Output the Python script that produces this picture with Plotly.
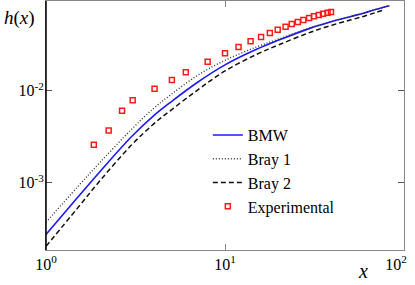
import plotly.graph_objects as go

# ---- data ----
x_bmw = [1, 1.5, 2, 3, 4, 5, 7, 10, 15, 20, 30, 40, 50, 60, 70, 83]
h_bmw = [2.75e-4, 6.92e-4, 1.32e-3, 3.16e-3, 5.37e-3, 7.59e-3, 0.0123, 0.0191,
         0.0282, 0.0355, 0.0479, 0.0569, 0.0638, 0.0700, 0.0767, 0.0839]

x_bray1 = [1, 1.5, 2, 3, 4, 5, 7, 10, 15, 20, 30, 40, 50, 60, 70, 83]
h_bray1 = [3.72e-4, 9.02e-4, 1.66e-3, 3.80e-3, 6.46e-3, 9.12e-3, 0.01462, 0.0214,
           0.0299, 0.0365, 0.0483, 0.0569, 0.0638, 0.0700, 0.0767, 0.0839]

x_bray2 = [1, 1.5, 2, 3, 4, 5, 7, 10, 15, 20, 30, 40, 50, 60, 70, 78]
h_bray2 = [2.04e-4, 5.31e-4, 1.05e-3, 2.57e-3, 4.37e-3, 6.17e-3, 0.01012, 0.0164,
           0.0248, 0.0316, 0.0432, 0.0519, 0.0586, 0.0646, 0.0711, 0.0759]

x_exp = [1.85, 2.24, 2.66, 3.05, 4.04, 5.05, 6.04, 8.0, 10.0, 11.9, 13.9, 15.9,
         17.8, 19.7, 21.8, 23.6, 25.5, 27.4, 29.5, 31.4, 33.4, 35.3, 37.4, 39.1]
h_exp = [0.00259, 0.00371, 0.00606, 0.00787, 0.0105, 0.01305, 0.01585, 0.0206,
         0.0255, 0.0299, 0.0344, 0.0384, 0.0424, 0.046, 0.0496, 0.0531, 0.0558,
         0.0587, 0.0617, 0.0644, 0.0665, 0.0687, 0.0705, 0.0717]

x_tickvals = [1, 10, 100]
x_ticktext = ["10<sup>0</sup>", "10<sup>1</sup>", "10<sup>2</sup>&nbsp;&nbsp;&nbsp;&nbsp;"]
y_tickvals = [1e-3, 1e-2]
y_ticktext = ["10<sup>-3</sup>", "10<sup>-2</sup>"]

FONT = "'Liberation Serif', 'DejaVu Serif', 'Times New Roman', serif"

fig = go.Figure()
fig.add_trace(go.Scatter(x=x_bmw, y=h_bmw, mode="lines", name="BMW",
                         line=dict(color="#1a1aff", width=1.6, shape="spline")))
fig.add_trace(go.Scatter(x=x_bray1, y=h_bray1, mode="lines", name="Bray 1",
                         line=dict(color="#333333", width=1.4, dash="1px,2px", shape="spline")))
fig.add_trace(go.Scatter(x=x_bray2, y=h_bray2, mode="lines", name="Bray 2",
                         line=dict(color="#111111", width=1.5, dash="5px,3px", shape="spline")))
fig.add_trace(go.Scatter(x=x_exp, y=h_exp, mode="markers", name="Experimental",
                         marker=dict(symbol="square-open", size=5, color="#ff1a1a",
                                     line=dict(width=1.5, color="#ff1a1a"))))

fig.update_layout(
    width=415, height=285,
    margin=dict(l=46, r=11, t=1, b=35, autoexpand=False),
    paper_bgcolor="white", plot_bgcolor="white",
    font=dict(family=FONT, size=16, color="black"),
    showlegend=True,
    legend=dict(x=0.452, y=0.53, xanchor="left", yanchor="top",
                bgcolor="rgba(0,0,0,0)", borderwidth=0,
                font=dict(family=FONT, size=16, color="black")),
    xaxis=dict(type="log", range=[0, 2], showgrid=False, zeroline=False,
               automargin=False, ticklabeloverflow="allow",
               showline=True, linecolor="#888888", linewidth=1, mirror="ticks",
               ticks="inside", ticklen=6, tickcolor="#888888",
               tickvals=x_tickvals, ticktext=x_ticktext,
               tickfont=dict(family=FONT, size=16, color="black")),
    yaxis=dict(type="log", range=[-3.73, -1.025], showgrid=False, zeroline=False,
               automargin=False, ticklabelstandoff=-2,
               showline=True, linecolor="#888888", linewidth=1, mirror="ticks",
               ticks="inside", ticklen=6, tickcolor="#555555",
               tickvals=y_tickvals, ticktext=y_ticktext,
               tickfont=dict(family=FONT, size=16, color="black")),
    shapes=[dict(type="line", xref="paper", yref="paper", x0=0, x1=0, y0=0, y1=1,
                 line=dict(color="black", width=1.5))],
    annotations=[
        dict(text="<i>h</i>(<i>x</i>)", xref="paper", yref="paper", x=-0.123, y=0.932,
             xanchor="left", yanchor="middle", showarrow=False,
             font=dict(family=FONT, size=19, color="black")),
        dict(text="<i>x</i>", xref="paper", yref="paper", x=0.885, y=-0.084,
             xanchor="center", yanchor="middle", showarrow=False,
             font=dict(family=FONT, size=20, color="black")),
    ],
)

fig.write_html("out.html", config={"displayModeBar": False},
               post_script="document.body.style.margin='0';document.body.style.overflow='hidden';")
